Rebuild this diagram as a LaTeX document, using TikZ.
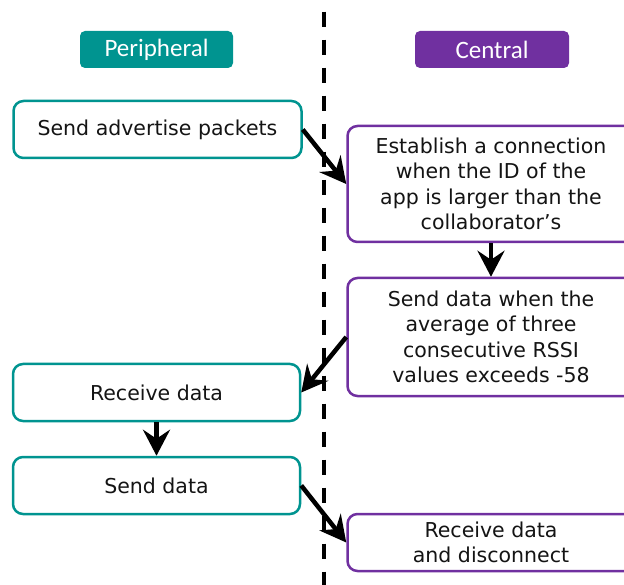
\documentclass[tikz,border=0pt]{standalone}
\usepackage{fontspec}
\setmainfont{DejaVu Sans}
\newfontfamily\hdrfont{Carlito}
\usetikzlibrary{arrows.meta}
\definecolor{peri}{HTML}{009490}
\definecolor{cent}{HTML}{7030A0}
\definecolor{ink}{HTML}{141414}
\tikzset{
  lane/.style={rounded corners=5pt, minimum width=153pt, minimum height=37pt,
    inner sep=0pt, text=white, font=\hdrfont\fontsize{25}{30}\selectfont},
  pbox/.style={draw=peri, line width=2.5pt, rounded corners=10pt, fill=white,
    minimum width=287pt, inner sep=0pt, align=center, text=ink,
    font=\fontsize{20.5}{25.5}\selectfont},
  cbox/.style={pbox, draw=cent},
  flow/.style={line width=4.5pt, -{Stealth[length=26pt, width=27pt, inset=9pt]}},
  divider/.style={line width=4pt, dash pattern=on 15pt off 13pt}
}
\begin{document}
\begin{tikzpicture}[x=1pt, y=-1pt]
\useasboundingbox (0,0) rectangle (624,585);
\begin{scope}
\clip (0,0) rectangle (624,585);
% lane divider
\coordinate (topend) at (324.3,-16.3);
\coordinate (botend) at (324.3,600);
\draw[divider] (topend) -- (botend);

% lane headers
\node[lane, fill=peri] (hp) at (156.5,49.5) {Peripheral};
\node[lane, fill=cent, minimum width=154pt] (hc) at (492,49.5) {Central};

% peripheral steps
\node[pbox, minimum width=288pt, minimum height=57pt] (adv) at (157.5,129.5) {Send advertise packets};
\node[pbox, minimum height=57pt] (rcv) at (156.5,392.5) {Receive data};
\node[pbox, minimum height=57pt] (snd) at (156.5,485.5) {Send data};

% central steps
\node[cbox, minimum height=116pt] (est) at (491,184) {Establish a connection\\when the ID of the\\app is larger than the\\collaborator’s};
\node[cbox, minimum height=118pt] (avg) at (491,337) {Send data when the\\average of three\\consecutive RSSI\\values exceeds -58};
\node[cbox, minimum height=57pt] (fin) at (491,542.5) {Receive data\\and disconnect};

% message flow
\draw[flow] (adv.east) -- (est.west);
\draw[flow] (est.south) -- (avg.north);
\draw[flow] (avg.west) -- (rcv.east);
\draw[flow] (rcv.south) -- (snd.north);
\draw[flow] (snd.east) -- (fin.west);
\end{scope}
\end{tikzpicture}
\end{document}
